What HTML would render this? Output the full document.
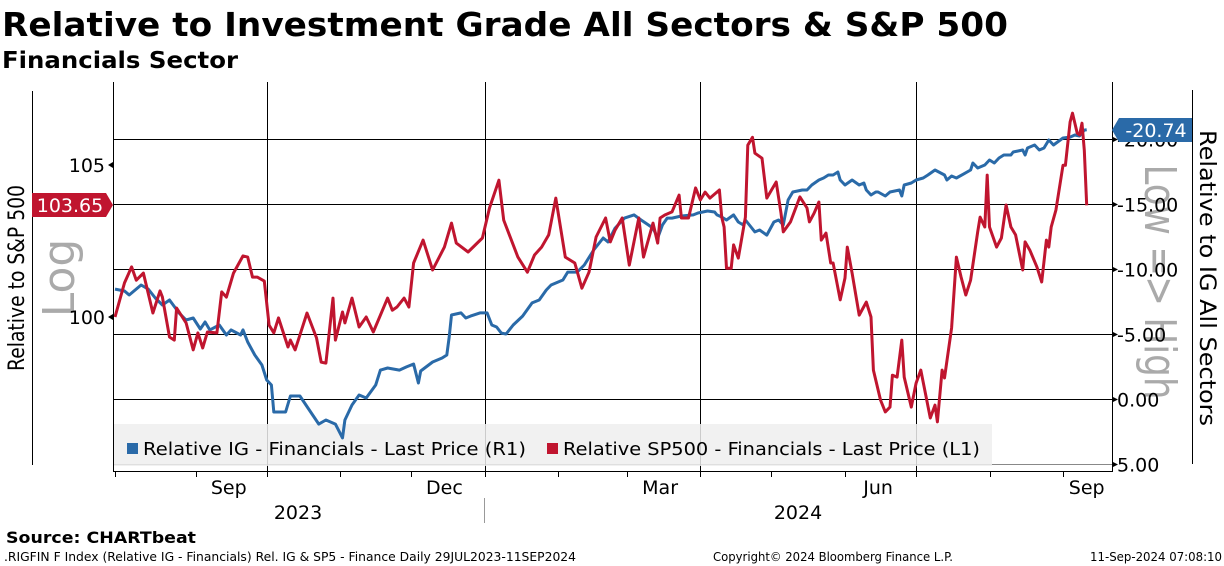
<!DOCTYPE html>
<html><head><meta charset="utf-8"><style>
html,body{margin:0;padding:0;background:#fff;}
svg{display:block;font-family:"DejaVu Sans","Liberation Sans",sans-serif;}
</style></head><body>
<svg id="chart" width="1224" height="566" viewBox="0 0 1224 566" xmlns="http://www.w3.org/2000/svg">
<text x="2" y="36" font-size="33" font-weight="bold" textLength="1006" lengthAdjust="spacingAndGlyphs">Relative to Investment Grade All Sectors &amp; S&amp;P 500</text>
<text x="2" y="68" font-size="23" font-weight="bold" textLength="236" lengthAdjust="spacingAndGlyphs">Financials Sector</text>
<g id="grid"></g>
<text transform="translate(74,278) rotate(-90)" text-anchor="middle" font-size="44" fill="#aaa">Log</text>
<text transform="translate(1145,282) rotate(90)" text-anchor="middle" font-size="44" fill="#aaa" textLength="235" lengthAdjust="spacingAndGlyphs">Low =&gt; High</text>
<rect x="114" y="424" width="878" height="42" fill="#efefef" fill-opacity="0.85"/>
<g id="series"></g>
<g id="axes"></g>
<rect x="127" y="443" width="11" height="11" fill="#2a6aa8"/>
<text x="143" y="455" font-size="18" textLength="383" lengthAdjust="spacingAndGlyphs">Relative IG - Financials - Last Price (R1)</text>
<rect x="547" y="443" width="11" height="11" fill="#c0152f"/>
<text x="563" y="455" font-size="18" textLength="417" lengthAdjust="spacingAndGlyphs">Relative SP500 - Financials - Last Price (L1)</text>
<text transform="translate(24,278) rotate(-90)" text-anchor="middle" font-size="22" textLength="186" lengthAdjust="spacingAndGlyphs">Relative to S&amp;P 500</text>
<text transform="translate(1200,278) rotate(90)" text-anchor="middle" font-size="22" textLength="296" lengthAdjust="spacingAndGlyphs">Relative to IG All Sectors</text>
<g>
<polygon points="32,193 106,193 113,205 106,217 32,217" fill="#c0152f"/>
<text x="70" y="212" text-anchor="middle" font-size="19" fill="#fff">103.65</text>
</g>
<g>
<polygon points="1112,130 1119,118 1192,118 1192,142 1119,142" fill="#2a6aa8"/>
<text x="1156" y="137" text-anchor="middle" font-size="19" fill="#fff">-20.74</text>
</g>
<text x="298" y="519" text-anchor="middle" font-size="19">2023</text>
<text x="798" y="519" text-anchor="middle" font-size="19">2024</text>
<line x1="484.5" y1="498" x2="484.5" y2="523" stroke="#999" stroke-width="1"/>
<text x="6" y="543" font-size="16" font-weight="bold" textLength="190" lengthAdjust="spacingAndGlyphs">Source: CHARTbeat</text>
<text x="4" y="561" font-size="12" textLength="572" lengthAdjust="spacingAndGlyphs">.RIGFIN F Index (Relative IG - Financials) Rel. IG &amp; SP5 - Finance  Daily 29JUL2023-11SEP2024</text>
<text x="713" y="561" font-size="12" textLength="240" lengthAdjust="spacingAndGlyphs">Copyright© 2024 Bloomberg Finance L.P.</text>
<text x="1090" y="561" font-size="12" textLength="132" lengthAdjust="spacingAndGlyphs">11-Sep-2024 07:08:10</text>
</svg>
<script>
// days since 29-Jul-2023
const blueDays=[0,4,6,11,14,17,20,23,27,30,33,36,38,40,44,47,49,53,54,56,59,62,64,66,67,72,74,78,82,86,89,93,96,97,100,103,106,110,112,115,120,123,126,128,129,134,138,140,141,142,146,148,150,154,157,159,161,163,165,168,172,176,179,182,184,189,191,195,198,202,206,208,211,215,219,222,225,227,229,231,233,235,239,244,246,248,250,253,254,256,258,261,263,265,266,268,270,272,275,278,280,282,284,286,290,292,294,297,299,301,303,305,306,308,311,314,316,317,319,321,322,325,327,331,332,333,336,338,341,343,346,350,351,353,355,358,361,362,364,367,369,371,373,375,378,379,383,384,385,388,390,392,394,396,400,403,405,407,409,410];
const blueVals=[-8.47,-8.32,-8.01,-8.78,-8.47,-7.78,-7.24,-7.63,-6.63,-6.09,-6.24,-5.39,-5.93,-5.32,-5.70,-4.93,-5.32,-4.93,-5.32,-4.39,-3.39,-2.62,-1.46,-1.08,1.00,1.00,-0.23,-0.23,0.85,1.93,1.62,1.93,3.00,1.62,0.46,-0.31,-0.08,-1.08,-2.23,-2.39,-2.23,-2.47,-2.70,-1.23,-2.16,-2.85,-3.16,-3.39,-4.78,-6.47,-6.63,-6.24,-6.39,-6.63,-6.63,-5.70,-5.55,-5.08,-5.01,-5.70,-6.39,-7.40,-7.63,-8.40,-8.78,-9.17,-9.78,-9.78,-10.32,-11.48,-12.40,-12.10,-13.17,-13.94,-14.18,-13.79,-13.41,-13.17,-12.40,-13.41,-13.94,-13.94,-14.10,-14.18,-14.33,-14.41,-14.48,-14.41,-14.18,-14.02,-13.79,-14.18,-13.64,-13.41,-13.79,-13.33,-12.87,-13.02,-12.63,-13.64,-13.79,-13.41,-15.33,-15.95,-16.10,-16.10,-16.49,-16.87,-17.03,-17.26,-17.26,-17.49,-16.87,-16.49,-16.87,-16.49,-16.64,-16.10,-15.72,-15.95,-15.95,-15.64,-15.95,-16.10,-15.64,-16.49,-16.64,-16.87,-17.03,-17.26,-17.64,-17.26,-16.87,-17.18,-17.03,-17.33,-17.64,-18.18,-17.80,-18.03,-18.41,-18.18,-18.57,-18.80,-18.80,-19.03,-19.18,-18.80,-19.34,-19.57,-19.18,-19.34,-19.95,-19.57,-20.11,-20.18,-20.34,-20.26,-20.72,-20.74];
const redDays=[0,4,7,9,12,16,19,20,23,25,26,30,33,35,37,39,43,45,47,50,54,56,58,60,63,65,67,69,73,74,76,79,81,85,87,89,92,93,96,97,100,103,106,109,115,117,119,122,124,126,130,134,139,142,144,149,155,158,162,164,170,174,177,180,183,186,190,194,197,200,203,207,209,211,214,217,221,223,227,229,230,232,235,238,239,242,245,247,249,251,255,256,257,258,260,261,263,266,267,269,270,273,275,277,279,281,282,285,289,292,293,295,297,298,300,302,303,306,308,309,311,314,317,319,320,323,325,327,328,330,332,333,336,338,340,344,346,347,349,350,353,355,357,359,361,364,365,367,368,369,372,374,376,378,380,383,384,386,389,391,393,394,395,397,400,401,403,404,406,407,408,409,410];
const redVals=[100.00,101.10,101.62,101.19,101.42,100.13,100.84,100.64,99.36,99.26,100.29,99.81,98.95,99.49,99.01,99.52,99.49,100.81,100.64,101.42,101.98,101.94,101.29,101.29,101.16,99.74,99.49,99.97,99.04,99.26,98.95,99.65,100.13,99.33,98.56,98.53,100.61,99.26,100.16,99.81,100.61,99.68,100.00,99.52,100.61,100.22,100.32,100.61,100.32,101.75,102.50,101.52,102.27,103.06,102.40,102.11,102.57,103.56,104.49,103.16,101.94,101.45,102.01,102.27,102.67,103.89,101.94,101.75,100.93,101.45,102.60,103.23,102.44,102.83,103.23,101.68,103.23,101.94,103.06,102.40,103.23,103.33,103.43,103.99,103.23,103.23,104.23,103.83,104.09,103.89,104.16,103.26,102.93,101.58,101.58,102.34,101.91,103.26,105.67,105.94,105.40,105.23,103.89,104.16,104.43,103.39,102.77,103.10,103.93,103.56,103.10,103.39,103.76,102.50,102.73,101.75,101.75,100.55,101.26,102.27,101.42,100.06,100.48,100.00,98.31,97.37,97.00,97.15,98.15,98.09,99.26,98.09,97.15,97.90,98.31,96.81,97.21,96.69,98.31,98.06,99.65,101.94,101.29,100.71,101.19,102.77,103.26,102.93,104.66,102.93,102.27,102.57,103.66,102.93,102.67,101.52,102.44,102.17,101.62,101.13,102.50,102.27,102.93,103.49,104.99,104.99,106.46,106.76,106.08,106.02,106.42,105.50,103.65];
const leftTicks=[100,105];
const rightTicks=[-20,-15,-10,-5,0,5];
const rightTickLabels=["-20.00","-15.00","-10.00","-5.00","0.00","5.00"];
const monthTickDays=[0,34,64,95,125,156,187,216,247,277,308,338,369,400];
const monthLabels=["Sep","Dec","Mar","Jun","Sep"];
const monthLabelDays=[48,139,230,322,410];

const X0=115, PXD=2.37;
function xS(d){return X0+d*PXD;}
function yL(v){return 317-3115*Math.log(v/100);}
function yR(v){return 399+v*12.98;}
const NS="http://www.w3.org/2000/svg";
function mk(tag,parent,attrs){const e=document.createElementNS(NS,tag);for(const k in attrs)e.setAttribute(k,attrs[k]);parent.appendChild(e);return e;}
const grid=document.getElementById('grid'),axes=document.getElementById('axes'),series=document.getElementById('series');
rightTicks.forEach((t,i)=>{
  const y=Math.round(yR(t))+0.5;
  const g=mk('line',grid,{x1:113,x2:1112,y1:y,y2:y,stroke:i===5?'#888':'#000','stroke-width':1});
  
  
  const tk=mk('polygon',axes,{points:`1112,${y-3} 1118,${y} 1112,${y+3}`,fill:'#000'});
  
  
  const tx=mk('text',axes,{x:1117,y:y+7,'font-size':19});
  tx.textContent=rightTickLabels[i];
  
  
});
[64,156,247,338].forEach(d=>{
  const x=Math.round(xS(d))+0.5;
  const v=mk('line',grid,{x1:x,x2:x,y1:82,y2:471,stroke:'#000','stroke-width':1});
  
  
});
leftTicks.forEach(t=>{
  const y=yL(t);
  const tk=mk('polygon',axes,{points:`113,${y-3} 108,${y} 113,${y+3}`,fill:'#000'});
  
  
  const tx=mk('text',axes,{x:105,y:y+7,'font-size':19,'text-anchor':'end'});
  tx.textContent=String(t);
  
  
});
[[113.5,82,113.5,471],[1112.5,82,1112.5,472],[32.5,91,32.5,465],[1192.5,90,1192.5,464],[113,471.5,1112,471.5]].forEach(a=>{
  const l=mk('line',axes,{x1:a[0],y1:a[1],x2:a[2],y2:a[3],stroke:'#000','stroke-width':1});
  
  
});
monthTickDays.forEach(d=>{
  const x=Math.round(xS(d))+0.5;
  const l=mk('line',axes,{x1:x,x2:x,y1:471,y2:477,stroke:'#000','stroke-width':1});
  
  
});
monthLabels.forEach((m,i)=>{
  const t=mk('text',axes,{x:xS(monthLabelDays[i]),y:494,'font-size':19,'text-anchor':'middle'});
  t.textContent=m;
  
  
});
function path(days,vals,yf,color,name){
  const d=days.map((dd,i)=>(i?'L':'M')+xS(dd).toFixed(1)+','+yf(vals[i]).toFixed(1)).join(' ');
  const p=mk('path',series,{d:d,fill:'none',stroke:color,'stroke-width':3,'stroke-linejoin':'round'});
  
  
}
path(blueDays,blueVals,yR,'#2a6aa8','line-relative-ig');
path(redDays,redVals,yL,'#c0152f','line-relative-sp500');
</script>
</body></html>
